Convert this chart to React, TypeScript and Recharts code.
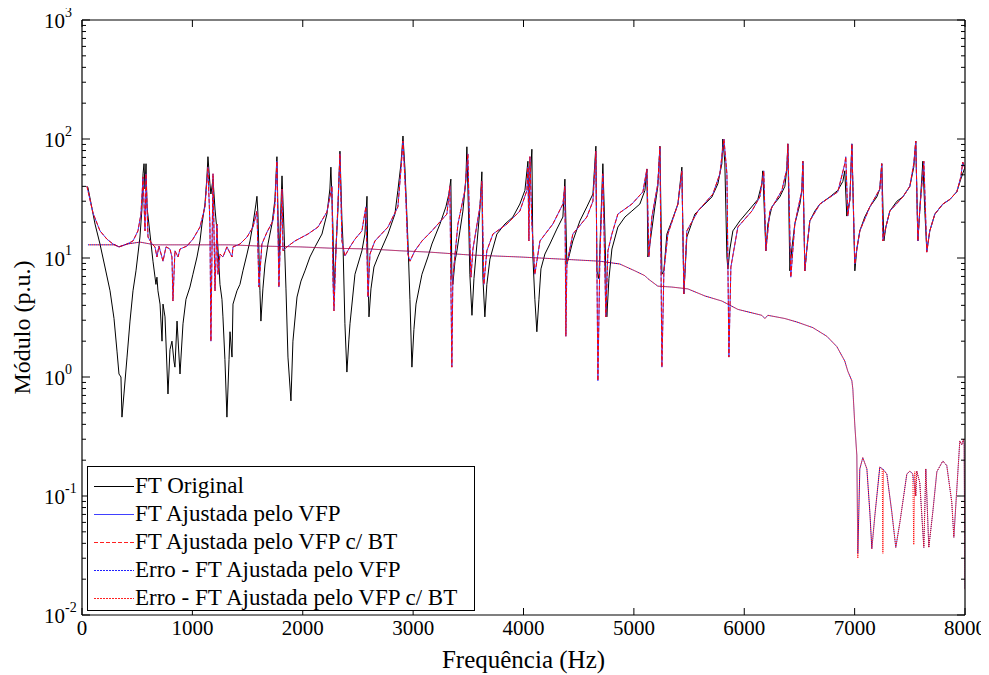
import React from 'react';
import { LineChart, Line, XAxis, YAxis, Legend } from 'recharts';

// Frequency (Hz), magnitude (p.u.) pairs
const ftOriginal: [number, number][] = [
  [45,40],[54,39],[118,19.3],[163,13.1],[208,8.4],[254,5.3],[290,3.1],[317,1.65],[335,1.06],[353,1.0],[362,0.46],[380,0.72],[408,1.47],[435,2.95],[462,5.3],[489,7.8],[507,10.8],[525,15],[543,25.8],[553,51],[562,62],[571,38],[580,62],[589,26.9],[616,15.9],[643,9.4],[670,6],[679,6.9],[688,5.3],[707,4.1],[725,2],[734,4.1],[752,3.2],[779,0.72],[797,1.7],[815,2],[833,1.36],[842,1.21],[861,2.95],[888,1.06],[915,2.8],[942,4.5],[978,5.7],[1005,7.3],[1042,10.2],[1069,13.9],[1087,19.3],[1114,28.4],[1132,48],[1141,71],[1159,42],[1168,34.5],[1187,46],[1205,25.8],[1223,16.9],[1250,6],[1268,4.5],[1277,3.2],[1295,1.4],[1313,0.46],[1332,1.4],[1341,2.4],[1359,1.47],[1368,4.1],[1404,5.3],[1431,6.0],[1458,7.8],[1495,10.8],[1522,13.9],[1549,19.3],[1576,28.4],[1585,33],[1594,23.4],[1612,5.3],[1621,2.95],[1639,5.5],[1658,8.9],[1685,13.1],[1721,19.3],[1748,31],[1766,71],[1784,8.9],[1812,49],[1830,17.5],[1848,5.5],[1866,1.47],[1893,0.63],[1911,2.0],[1948,4.7],[1984,6.4],[2020,7.8],[2065,10.2],[2111,12.4],[2174,15.9],[2219,23.4],[2246,38],[2255,58],[2274,17.5],[2283,5.3],[2301,11.9],[2319,25.8],[2337,79],[2355,21],[2364,13.9],[2382,2.8],[2400,1.1],[2418,2.05],[2428,2.8],[2473,7.3],[2536,11.5],[2563,15.9],[2582,33],[2591,7.8],[2600,3.2],[2618,5.5],[2645,8.4],[2681,10.2],[2772,15.9],[2835,23.4],[2862,37],[2890,62],[2908,106],[2926,56],[2953,13.9],[2971,4.5],[2989,1.21],[3007,2.5],[3026,4.1],[3080,7.3],[3134,10.2],[3170,13.1],[3243,19.3],[3297,26.9],[3324,34.5],[3342,46],[3351,6.9],[3360,6.0],[3379,9.4],[3397,11.5],[3424,16.9],[3451,24.8],[3478,46],[3487,86],[3505,17.5],[3514,7.3],[3533,3.3],[3551,6.7],[3578,13.1],[3605,25.8],[3623,53],[3632,6.9],[3650,3.2],[3668,6],[3696,9.8],[3759,15.9],[3832,19.3],[3904,22.1],[3967,28.4],[4013,37],[4040,65],[4049,30],[4058,42],[4076,82],[4085,10.2],[4103,4.5],[4121,2.4],[4140,4.5],[4158,8.1],[4194,10.8],[4239,13.1],[4302,17.5],[4357,22.1],[4375,46],[4393,8.9],[4411,10.2],[4447,13.9],[4511,20.5],[4574,26.9],[4629,34.5],[4656,87],[4665,7.8],[4683,6.7],[4701,21],[4719,62],[4737,17.5],[4755,3.2],[4774,6.7],[4801,11.9],[4855,18.2],[4919,22.1],[4982,24.8],[5054,28.4],[5100,37],[5118,56],[5127,10.2],[5145,13.1],[5190,26.9],[5217,40],[5236,87],[5254,7.3],[5272,7.8],[5299,15.9],[5344,20.5],[5399,28.4],[5435,58],[5453,5.0],[5480,15],[5553,23.4],[5643,28.4],[5707,32.6],[5761,42],[5797,62],[5806,100],[5824,64],[5843,10.2],[5852,8.1],[5870,11.9],[5897,16.9],[5960,20.5],[6051,25.8],[6123,31],[6159,42],[6168,54],[6196,11.5],[6214,19.3],[6250,26.9],[6322,32.6],[6368,40],[6386,56],[6395,91],[6413,7.8],[6431,11.9],[6458,19.3],[6504,28.4],[6522,37],[6531,65],[6549,7.8],[6567,11.9],[6594,20.5],[6640,24.8],[6685,28.4],[6775,32.6],[6848,37],[6893,44],[6911,54],[6929,22.5],[6957,31],[6975,91],[6993,17.5],[7002,7.8],[7020,11.9],[7047,16.9],[7092,22.1],[7138,26.9],[7201,32.6],[7228,38],[7246,62],[7265,13.9],[7283,18.2],[7319,24.8],[7383,30],[7437,32.6],[7500,40],[7536,58],[7554,96],[7573,13.9],[7591,25.8],[7618,65],[7636,25],[7654,11.5],[7681,16.9],[7727,23.4],[7799,28.4],[7862,31],[7926,36],[7962,46],[8000,58],
];

const ajustadaVFP: [number, number][] = [
  [45,40],[100,23.8],[163,16.9],[226,14.4],[281,13.1],[335,12.4],[408,13.1],[462,13.9],[507,16.9],[534,23.4],[553,48],[571,16.9],[580,51],[598,15],[634,13.1],[661,12.4],[679,10.2],[697,12.6],[734,9.4],[761,12.4],[797,11.9],[815,10.2],[824,4.35],[842,11.5],[870,10.2],[888,11.9],[951,12.6],[1005,14.4],[1069,18.2],[1114,26.9],[1141,58],[1159,19.3],[1168,2.0],[1178,11.9],[1187,51],[1205,5.3],[1223,19.3],[1232,7.3],[1250,10.8],[1277,10.2],[1313,12.4],[1359,10.2],[1368,12.4],[1431,13.1],[1495,15],[1549,18.2],[1585,24.8],[1603,5.7],[1630,13.1],[1676,16.5],[1730,20.5],[1748,28.4],[1766,65],[1784,5.7],[1812,38],[1821,11.5],[1857,12.4],[1929,13.9],[2047,15.9],[2138,18.2],[2219,24.4],[2265,40],[2274,6.4],[2283,3.6],[2301,11.9],[2319,28.4],[2337,75],[2355,13.9],[2382,10.4],[2428,12.4],[2473,14.4],[2536,16.9],[2572,26.9],[2591,4.7],[2609,10.8],[2654,13.9],[2772,18.2],[2862,26.9],[2890,56],[2908,96],[2935,31],[2953,10.8],[2971,9.4],[3016,11.5],[3080,13.9],[3170,16.9],[3306,23.4],[3333,40],[3342,6.4],[3351,1.21],[3360,6.9],[3406,19.3],[3469,37],[3496,75],[3514,13.9],[3524,6.9],[3542,11.9],[3605,26.9],[3623,44],[3641,6.0],[3668,11.5],[3723,15.9],[3850,19.3],[3967,24.8],[4031,37],[4040,58],[4049,13.9],[4058,71],[4076,19.3],[4103,7.3],[4149,13.9],[4266,19.3],[4357,28.4],[4375,40],[4384,2.2],[4393,8.9],[4447,15.9],[4574,22.1],[4629,30],[4656,79],[4674,0.93],[4692,10.2],[4719,51],[4746,3.2],[4765,11.5],[4801,15.9],[4855,23.4],[4982,28.4],[5082,36],[5118,56],[5136,10.2],[5163,22.1],[5217,42],[5236,86],[5254,1.21],[5272,7.8],[5308,15.9],[5399,28.4],[5435,54],[5453,5.0],[5480,16.9],[5580,24.8],[5716,34.5],[5779,51],[5797,71],[5816,100],[5843,51],[5861,1.47],[5879,8.4],[5942,18.2],[6069,24.8],[6141,32.6],[6177,54],[6196,11.5],[6232,24.8],[6341,37],[6386,56],[6395,91],[6422,6.9],[6458,19.3],[6522,37],[6531,65],[6549,7.8],[6567,11.9],[6594,20.5],[6685,28.4],[6848,36],[6911,62],[6920,71],[6938,22.5],[6957,31],[6975,91],[7002,8.9],[7020,11.9],[7047,16.9],[7138,26.9],[7228,38],[7246,62],[7256,13.9],[7283,18.2],[7319,24.8],[7437,32.6],[7500,40],[7536,62],[7554,96],[7573,13.9],[7591,25.8],[7627,65],[7654,11.2],[7681,16.9],[7727,23.4],[7799,28.4],[7862,31],[7926,36],[7962,48],[7980,64],[8000,56],
];

const ajustadaVFPcBT: [number, number][] = ajustadaVFP;

const erroVFP: [number, number][] = [
  [54,12.9],[163,12.9],[299,12.9],[335,12.4],[408,13.1],[525,13.6],[661,12.9],[888,12.9],[1069,12.9],[1341,12.9],[1612,12.6],[1975,12.4],[2246,12.1],[2609,11.9],[2880,11.5],[3152,11.2],[3514,10.6],[3967,10.2],[4330,9.8],[4692,9.4],[4873,8.9],[5009,7.8],[5100,7.1],[5127,6.7],[5217,5.8],[5344,5.7],[5489,5.5],[5643,4.8],[5797,4.35],[5942,3.7],[6159,3.3],[6187,3.1],[6214,3.3],[6368,3.1],[6476,2.9],[6621,2.6],[6748,2.2],[6839,1.8],[6911,1.36],[6938,1.12],[6975,0.93],[6984,0.79],[7002,0.39],[7020,0.22],[7029,0.033],[7047,0.169],[7074,0.21],[7111,0.169],[7138,0.073],[7156,0.036],[7183,0.068],[7228,0.175],[7256,0.169],[7292,0.153],[7337,0.073],[7373,0.037],[7410,0.06],[7473,0.153],[7500,0.162],[7527,0.153],[7554,0.1],[7563,0.162],[7590,0.13],[7627,0.037],[7645,0.169],[7672,0.037],[7708,0.073],[7745,0.16],[7799,0.197],[7835,0.18],[7880,0.089],[7899,0.045],[7926,0.115],[7953,0.29],[7971,0.27],[7985,0.3],[7992,0.27],[8000,0.0165],
];

const erroVFPcBT: [number, number][] = [
  [54,12.9],[163,12.9],[299,12.9],[335,12.4],[408,13.1],[525,13.6],[661,12.9],[888,12.9],[1069,12.9],[1341,12.9],[1612,12.6],[1975,12.4],[2246,12.1],[2609,11.9],[2880,11.5],[3152,11.2],[3514,10.6],[3967,10.2],[4330,9.8],[4692,9.4],[4873,8.9],[5009,7.8],[5100,7.1],[5127,6.7],[5217,5.8],[5344,5.7],[5489,5.5],[5643,4.8],[5797,4.35],[5942,3.7],[6159,3.3],[6187,3.1],[6214,3.3],[6368,3.1],[6476,2.9],[6621,2.6],[6748,2.2],[6839,1.8],[6911,1.36],[6938,1.12],[6975,0.93],[6984,0.79],[7002,0.39],[7020,0.22],[7029,0.03],[7047,0.169],[7074,0.21],[7111,0.169],[7138,0.073],[7156,0.036],[7183,0.068],[7228,0.175],[7250,0.169],[7256,0.033],[7262,0.165],[7292,0.153],[7337,0.073],[7373,0.037],[7410,0.06],[7473,0.153],[7500,0.162],[7527,0.153],[7536,0.039],[7545,0.16],[7554,0.1],[7563,0.162],[7590,0.13],[7627,0.037],[7645,0.169],[7672,0.037],[7708,0.073],[7745,0.16],[7799,0.197],[7835,0.18],[7880,0.089],[7899,0.045],[7926,0.115],[7953,0.29],[7971,0.27],[7985,0.3],[7992,0.27],[8000,0.0165],
];

const xTicks = [0, 1000, 2000, 3000, 4000, 5000, 6000, 7000, 8000];
const yDecades = [-2, -1, 0, 1, 2, 3];
const yMinorMultipliers = [2, 3, 4, 5, 6, 7, 8, 9];

const seriesNames = [
  'FT Original',
  'FT Ajustada pelo VFP',
  'FT Ajustada pelo VFP c/ BT',
  'Erro - FT Ajustada pelo VFP',
  'Erro - FT Ajustada pelo VFP c/ BT',
];

const yTicks: number[] = [];
yDecades.forEach((d) => {
  yTicks.push(Math.pow(10, d));
  if (d < 3) yMinorMultipliers.forEach((m) => yTicks.push(m * Math.pow(10, d)));
});

const toRows = (pts: [number, number][]) => pts.map(([f, v]) => ({ f, v }));

const FONT = 'Liberation Serif, DejaVu Serif, serif';

const isMajor = (v: number) => {
  const l = Math.log10(v);
  return Math.abs(l - Math.round(l)) < 1e-6;
};

const LeftTick = (props: any) => {
  const { x, y, payload } = props;
  const v = payload.value;
  const major = isMajor(v);
  const e = Math.round(Math.log10(v));
  return (
    <g>
      <line x1={x} x2={x + (major ? 8 : 4)} y1={y} y2={y} stroke="#000" strokeWidth={1} />
      {major && (
        <text x={x - 38} y={y + 8} textAnchor="start" style={{ fontFamily: FONT }} fontSize={21} fill="#000">
          <tspan>10</tspan>
          <tspan dy={-11} fontSize={14}>{e}</tspan>
        </text>
      )}
    </g>
  );
};

const RightTick = (props: any) => {
  const { x, y, payload } = props;
  const major = isMajor(payload.value);
  return <line x1={x} x2={x - (major ? 8 : 4)} y1={y} y2={y} stroke="#000" strokeWidth={1} />;
};

const BottomTick = (props: any) => {
  const { x, y, payload } = props;
  return (
    <g>
      <line x1={x} x2={x} y1={y} y2={y - 7} stroke="#000" strokeWidth={1} />
      <text x={x} y={y + 20} textAnchor="middle" style={{ fontFamily: FONT }} fontSize={21} fill="#000">
        {payload.value}
      </text>
    </g>
  );
};

const TopTick = (props: any) => {
  const { x, y } = props;
  return <line x1={x} x2={x} y1={y} y2={y + 7} stroke="#000" strokeWidth={1} />;
};

const legendItems = [
  { name: seriesNames[0], color: '#000000', dash: '' },
  { name: seriesNames[1], color: '#4040ff', dash: '' },
  { name: seriesNames[2], color: '#ff2020', dash: '4 2' },
  { name: seriesNames[3], color: '#2020ff', dash: '2 1' },
  { name: seriesNames[4], color: '#ff2020', dash: '2 1' },
];

const ROW = 28;

const LegendBox = () => (
  <div
    style={{
      position: 'relative',
      width: 388,
      height: 145,
      border: '1px solid #000',
      background: '#fff',
      boxSizing: 'border-box',
      fontFamily: FONT,
      fontSize: 23,
      color: '#000',
    }}
  >
    <svg width={50} height={145} style={{ position: 'absolute', left: 6, top: 0 }}>
      {legendItems.map((it, i) => (
        <line
          key={it.name}
          x1={0}
          x2={40}
          y1={19.5 + i * ROW}
          y2={19.5 + i * ROW}
          stroke={it.color}
          strokeWidth={1}
          strokeDasharray={it.dash || undefined}
          shapeRendering="crispEdges"
        />
      ))}
    </svg>
    {legendItems.map((it, i) => (
      <div
        key={it.name}
        style={{ position: 'absolute', left: 47, top: 5 + i * ROW, height: ROW, lineHeight: `${ROW}px`, whiteSpace: 'nowrap' }}
      >
        {it.name}
      </div>
    ))}
  </div>
);

export default function App() {
  return (
    <div style={{ width: 989, height: 675, position: 'relative', background: '#fff', marginLeft: -8, marginTop: -8 }}>
      <LineChart width={989} height={675} margin={{ top: 0, right: 0, bottom: 0, left: 0 }} style={{ fontFamily: FONT }}>
        <XAxis
          xAxisId="b"
          dataKey="f"
          type="number"
          domain={[0, 8000]}
          ticks={xTicks}
          allowDataOverflow
          orientation="bottom"
          height={60}
          tickSize={0}
          tickMargin={0}
          tickLine={false}
          axisLine={{ stroke: '#000', strokeWidth: 1.2 }}
          tick={<BottomTick />}
          interval={0}
          label={(p: any) => {
            const vb = p.viewBox;
            return (
              <text x={vb.x + vb.width / 2} y={vb.y + 53} textAnchor="middle" style={{ fontFamily: FONT }} fontSize={25} fill="#000">
                Frequência (Hz)
              </text>
            );
          }}
        />
        <XAxis
          xAxisId="t"
          dataKey="f"
          type="number"
          domain={[0, 8000]}
          ticks={xTicks}
          allowDataOverflow
          orientation="top"
          height={20}
          tickSize={0}
          tickMargin={0}
          tickLine={false}
          axisLine={{ stroke: '#000', strokeWidth: 1.2 }}
          tick={<TopTick />}
          interval={0}
        />
        <YAxis
          yAxisId="l"
          scale="log"
          type="number"
          domain={[0.01, 1000]}
          ticks={yTicks}
          allowDataOverflow
          orientation="left"
          width={82}
          tickSize={0}
          tickMargin={0}
          tickLine={false}
          axisLine={{ stroke: '#000', strokeWidth: 1.2 }}
          tick={<LeftTick />}
          interval={0}
          label={(p: any) => {
            const vb = p.viewBox;
            const cx = vb.x + 22;
            const cy = vb.y + vb.height / 2 + 10;
            return (
              <text x={cx} y={cy} transform={`rotate(-90, ${cx}, ${cy})`} textAnchor="middle" dominantBaseline="central" style={{ fontFamily: FONT }} fontSize={24} fill="#000">
                Módulo (p.u.)
              </text>
            );
          }}
        />
        <YAxis
          yAxisId="r"
          scale="log"
          type="number"
          domain={[0.01, 1000]}
          ticks={yTicks}
          allowDataOverflow
          orientation="right"
          width={24}
          tickSize={0}
          tickMargin={0}
          tickLine={false}
          axisLine={{ stroke: '#000', strokeWidth: 1.2 }}
          tick={<RightTick />}
          interval={0}
        />
        <Line xAxisId="b" yAxisId="l" data={toRows(ftOriginal)} dataKey="v" name={seriesNames[0]} type="linear" stroke="#000000" strokeWidth={1} dot={false} isAnimationActive={false} />
        <Line xAxisId="b" yAxisId="l" data={toRows(ajustadaVFP)} dataKey="v" name={seriesNames[1]} type="linear" stroke="#4040ff" strokeWidth={1} dot={false} isAnimationActive={false} />
        <Line xAxisId="b" yAxisId="l" data={toRows(ajustadaVFPcBT)} dataKey="v" name={seriesNames[2]} type="linear" stroke="#ff0000" strokeWidth={1} strokeDasharray="4 2" dot={false} isAnimationActive={false} />
        <Line xAxisId="b" yAxisId="l" data={toRows(erroVFP)} dataKey="v" name={seriesNames[3]} type="linear" stroke="#0000cc" strokeWidth={1} strokeDasharray="1 1" dot={false} isAnimationActive={false} />
        <Line xAxisId="b" yAxisId="l" data={toRows(erroVFPcBT)} dataKey="v" name={seriesNames[4]} type="linear" stroke="#ff0000" strokeWidth={1} strokeDasharray="1 1" strokeDashoffset={1} dot={false} isAnimationActive={false} />
        <Legend
          layout="horizontal"
          verticalAlign="middle"
          align="center"
          wrapperStyle={{ position: 'absolute', left: 87, top: 466, width: 388, height: 145 }}
          content={() => <LegendBox />}
        />
      </LineChart>
    </div>
  );
}
